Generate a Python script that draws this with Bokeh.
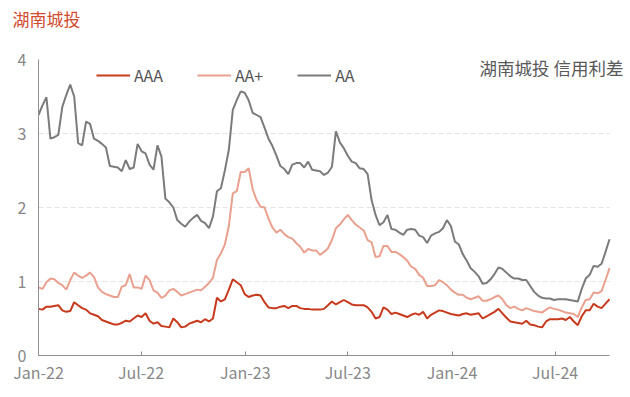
import pandas as pd
from bokeh.plotting import figure
from bokeh.models import (Legend, LegendItem, Label, FixedTicker,
                          DatetimeTickFormatter, Range1d, Title)
from bokeh.embed import file_html
from bokeh.resources import INLINE

# ---------------- data ----------------
start_date = "2022-01-01"
n_weeks = 145
dates = pd.date_range(start_date, periods=n_weeks, freq="7D")

aaa = [0.63, 0.62, 0.66, 0.66, 0.67, 0.68, 0.61, 0.59, 0.60, 0.72,
       0.68, 0.64, 0.62, 0.57, 0.55, 0.53, 0.48, 0.46, 0.44, 0.42,
       0.42, 0.44, 0.47, 0.46, 0.50, 0.54, 0.52, 0.57, 0.47, 0.43,
       0.45, 0.40, 0.39, 0.38, 0.50, 0.45, 0.38, 0.39, 0.43, 0.45,
       0.47, 0.45, 0.49, 0.46, 0.50, 0.78, 0.73, 0.76, 0.89, 1.03,
       0.99, 0.95, 0.83, 0.79, 0.81, 0.82, 0.81, 0.72, 0.65, 0.64,
       0.64, 0.66, 0.67, 0.64, 0.67, 0.67, 0.64, 0.63, 0.63, 0.62,
       0.62, 0.62, 0.63, 0.68, 0.73, 0.69, 0.72, 0.75, 0.72, 0.69,
       0.68, 0.68, 0.68, 0.65, 0.59, 0.50, 0.52, 0.65, 0.62, 0.56,
       0.58, 0.56, 0.54, 0.52, 0.55, 0.57, 0.55, 0.59, 0.50, 0.55,
       0.58, 0.61, 0.60, 0.58, 0.56, 0.55, 0.54, 0.56, 0.57, 0.55,
       0.56, 0.57, 0.50, 0.53, 0.56, 0.59, 0.63, 0.57, 0.51, 0.46,
       0.45, 0.44, 0.43, 0.47, 0.42, 0.41, 0.39, 0.38, 0.46, 0.49,
       0.49, 0.49, 0.50, 0.48, 0.52, 0.46, 0.41, 0.53, 0.61, 0.61,
       0.70, 0.66, 0.64, 0.70, 0.76]

aa_plus = [0.92, 0.90, 0.99, 1.04, 1.03, 0.98, 0.95, 0.89, 1.02, 1.12,
           1.08, 1.05, 1.08, 1.12, 1.06, 0.92, 0.86, 0.83, 0.81, 0.79,
           0.79, 0.93, 0.95, 1.10, 0.92, 0.92, 0.90, 1.08, 1.02, 0.88,
           0.85, 0.78, 0.81, 0.88, 0.90, 0.86, 0.81, 0.83, 0.85, 0.87,
           0.89, 0.88, 0.93, 0.98, 1.05, 1.29, 1.38, 1.50, 1.75, 2.19,
           2.22, 2.48, 2.48, 2.53, 2.25, 2.10, 2.01, 2.00, 1.85, 1.73,
           1.66, 1.70, 1.64, 1.60, 1.58, 1.52, 1.47, 1.39, 1.44, 1.42,
           1.42, 1.36, 1.40, 1.45, 1.56, 1.72, 1.77, 1.84, 1.90, 1.83,
           1.77, 1.73, 1.69, 1.56, 1.53, 1.33, 1.34, 1.48, 1.48, 1.40,
           1.40, 1.37, 1.33, 1.28, 1.20, 1.17, 1.09, 1.05, 0.94, 0.94,
           0.95, 1.02, 0.99, 0.95, 0.89, 0.85, 0.82, 0.82, 0.78, 0.76,
           0.78, 0.80, 0.74, 0.74, 0.76, 0.79, 0.81, 0.76, 0.68, 0.64,
           0.66, 0.63, 0.61, 0.64, 0.62, 0.60, 0.59, 0.58, 0.62, 0.65,
           0.63, 0.62, 0.60, 0.58, 0.57, 0.56, 0.52, 0.65, 0.75, 0.76,
           0.85, 0.84, 0.87, 1.02, 1.18]

aa = [3.25, 3.38, 3.49, 2.93, 2.95, 2.98, 3.36, 3.52, 3.66, 3.50,
      2.87, 2.84, 3.16, 3.13, 2.93, 2.90, 2.86, 2.81, 2.56, 2.55,
      2.54, 2.49, 2.64, 2.52, 2.54, 2.86, 2.76, 2.73, 2.58, 2.51,
      2.84, 2.69, 2.12, 2.07, 2.00, 1.83, 1.78, 1.74, 1.81, 1.86,
      1.90, 1.82, 1.79, 1.72, 1.88, 2.22, 2.26, 2.50, 2.78, 3.32,
      3.45, 3.57, 3.55, 3.45, 3.28, 3.25, 3.22, 3.08, 2.93, 2.83,
      2.70, 2.56, 2.52, 2.45, 2.58, 2.60, 2.60, 2.54, 2.62, 2.51,
      2.50, 2.49, 2.44, 2.47, 2.55, 3.03, 2.88, 2.80, 2.70, 2.62,
      2.60, 2.53, 2.52, 2.45, 2.10, 1.90, 1.76, 1.80, 1.90, 1.71,
      1.70, 1.66, 1.63, 1.70, 1.71, 1.70, 1.62, 1.60, 1.52, 1.62,
      1.65, 1.67, 1.72, 1.83, 1.75, 1.54, 1.50, 1.37, 1.28, 1.18,
      1.13, 1.07, 0.97, 0.98, 1.03, 1.10, 1.19, 1.17, 1.12, 1.07,
      1.04, 1.04, 1.02, 1.02, 0.94, 0.86, 0.81, 0.78, 0.77, 0.77,
      0.75, 0.76, 0.76, 0.76, 0.75, 0.74, 0.73, 0.90, 1.04, 1.09,
      1.21, 1.20, 1.24, 1.40, 1.57]

series_names = ["AAA", "AA+", "AA"]
series_colors = ["#c73a1d", "#e9a08e", "#7b7b7b"]

x_tick_dates = ["2022-01-01", "2022-07-01", "2023-01-01",
                "2023-07-01", "2024-01-01", "2024-07-01"]
y_ticks = [0, 1, 2, 3, 4]

title_text = "湖南城投"
note_text = "湖南城投 信用利差"

FONT = "Noto Sans CJK SC"

# ---------------- layout ----------------
FRAME_W = 587      # frame reaches past the last date so the note fits
DATA_W = 571       # pixels covered by the data span
x_start = dates[0]
x_end = dates[0] + (dates[-1] - dates[0]) * (FRAME_W / DATA_W)

p = figure(title=None, x_axis_type="datetime",
           frame_width=FRAME_W, frame_height=296,
           min_border_left=38, min_border_right=3,
           min_border_top=59, min_border_bottom=38,
           output_backend="svg", toolbar_location=None,
           x_range=Range1d(x_start, x_end),
           y_range=Range1d(0, 4))

p.outline_line_color = None
p.background_fill_color = "white"
p.border_fill_color = "white"

# title: a blank spacer panel next to the frame, then the real title above it
spacer = Title(text=" ", align="left", standoff=0, text_font=FONT,
               text_font_size="17px")
p.add_layout(spacer, "above")
main_title = Title(text=title_text, align="left", vertical_align="top",
                   offset=-26, standoff=0, text_font=FONT,
                   text_font_size="17px", text_font_style="normal",
                   text_color="#d04b2e")
p.add_layout(main_title, "above")

renderers = []
for name, vals, col in zip(series_names, [aaa, aa_plus, aa], series_colors):
    r = p.line(dates, vals, line_color=col, line_width=2)
    renderers.append((name, r))

first_ms = pd.Timestamp(dates[0]).value // 10**6
last_ms = pd.Timestamp(dates[-1]).value // 10**6

# grid
p.xgrid.visible = False
p.ygrid.ticker = FixedTicker(ticks=y_ticks)
p.ygrid.grid_line_color = "#e4e4e4"
p.ygrid.grid_line_dash = "5 3"
p.ygrid.grid_line_width = 1
try:
    p.ygrid.cross_bounds = (first_ms, last_ms)
except Exception:
    pass

# axes
tick_ms = [pd.Timestamp(d).value // 10**6 for d in x_tick_dates]
p.xaxis.ticker = FixedTicker(ticks=tick_ms)
fmt = "%b-%y"
p.xaxis.formatter = DatetimeTickFormatter(
    milliseconds=fmt, seconds=fmt, minsec=fmt, minutes=fmt, hourmin=fmt,
    hours=fmt, days=fmt, months=fmt, years=fmt)
p.xaxis.bounds = (first_ms, last_ms)
p.yaxis.ticker = FixedTicker(ticks=y_ticks)

for ax in (p.xaxis[0], p.yaxis[0]):
    ax.axis_line_color = "#8f8f8f"
    ax.axis_line_width = 1
    ax.major_tick_line_color = "#8f8f8f"
    ax.minor_tick_line_color = None
    ax.major_label_text_font = FONT
    ax.major_label_text_color = "#888888"
    ax.major_label_text_font_size = "16px"

p.xaxis.major_tick_in = 4
p.xaxis.major_tick_out = 0
p.xaxis.major_label_standoff = 4
p.yaxis.major_tick_in = 0
p.yaxis.major_tick_out = 0
p.yaxis.major_label_standoff = 12

# legend
legend = Legend(items=[LegendItem(label=n, renderers=[r]) for n, r in renderers],
                orientation="horizontal", location=(58, 268),
                glyph_width=34, glyph_height=18, label_height=18,
                label_standoff=4, spacing=34, padding=0, margin=0,
                border_line_alpha=0, background_fill_alpha=0,
                label_text_font=FONT, label_text_font_size="16px",
                label_text_color="#555555")
p.add_layout(legend)

# note at top right
p.add_layout(Label(x=585, y=288.5, x_units="screen", y_units="screen",
                   text=note_text, text_font=FONT, text_font_size="17.5px",
                   text_color="#595959", text_baseline="middle",
                   text_align="right"))

open("out.html", "w").write(file_html(p, INLINE))
